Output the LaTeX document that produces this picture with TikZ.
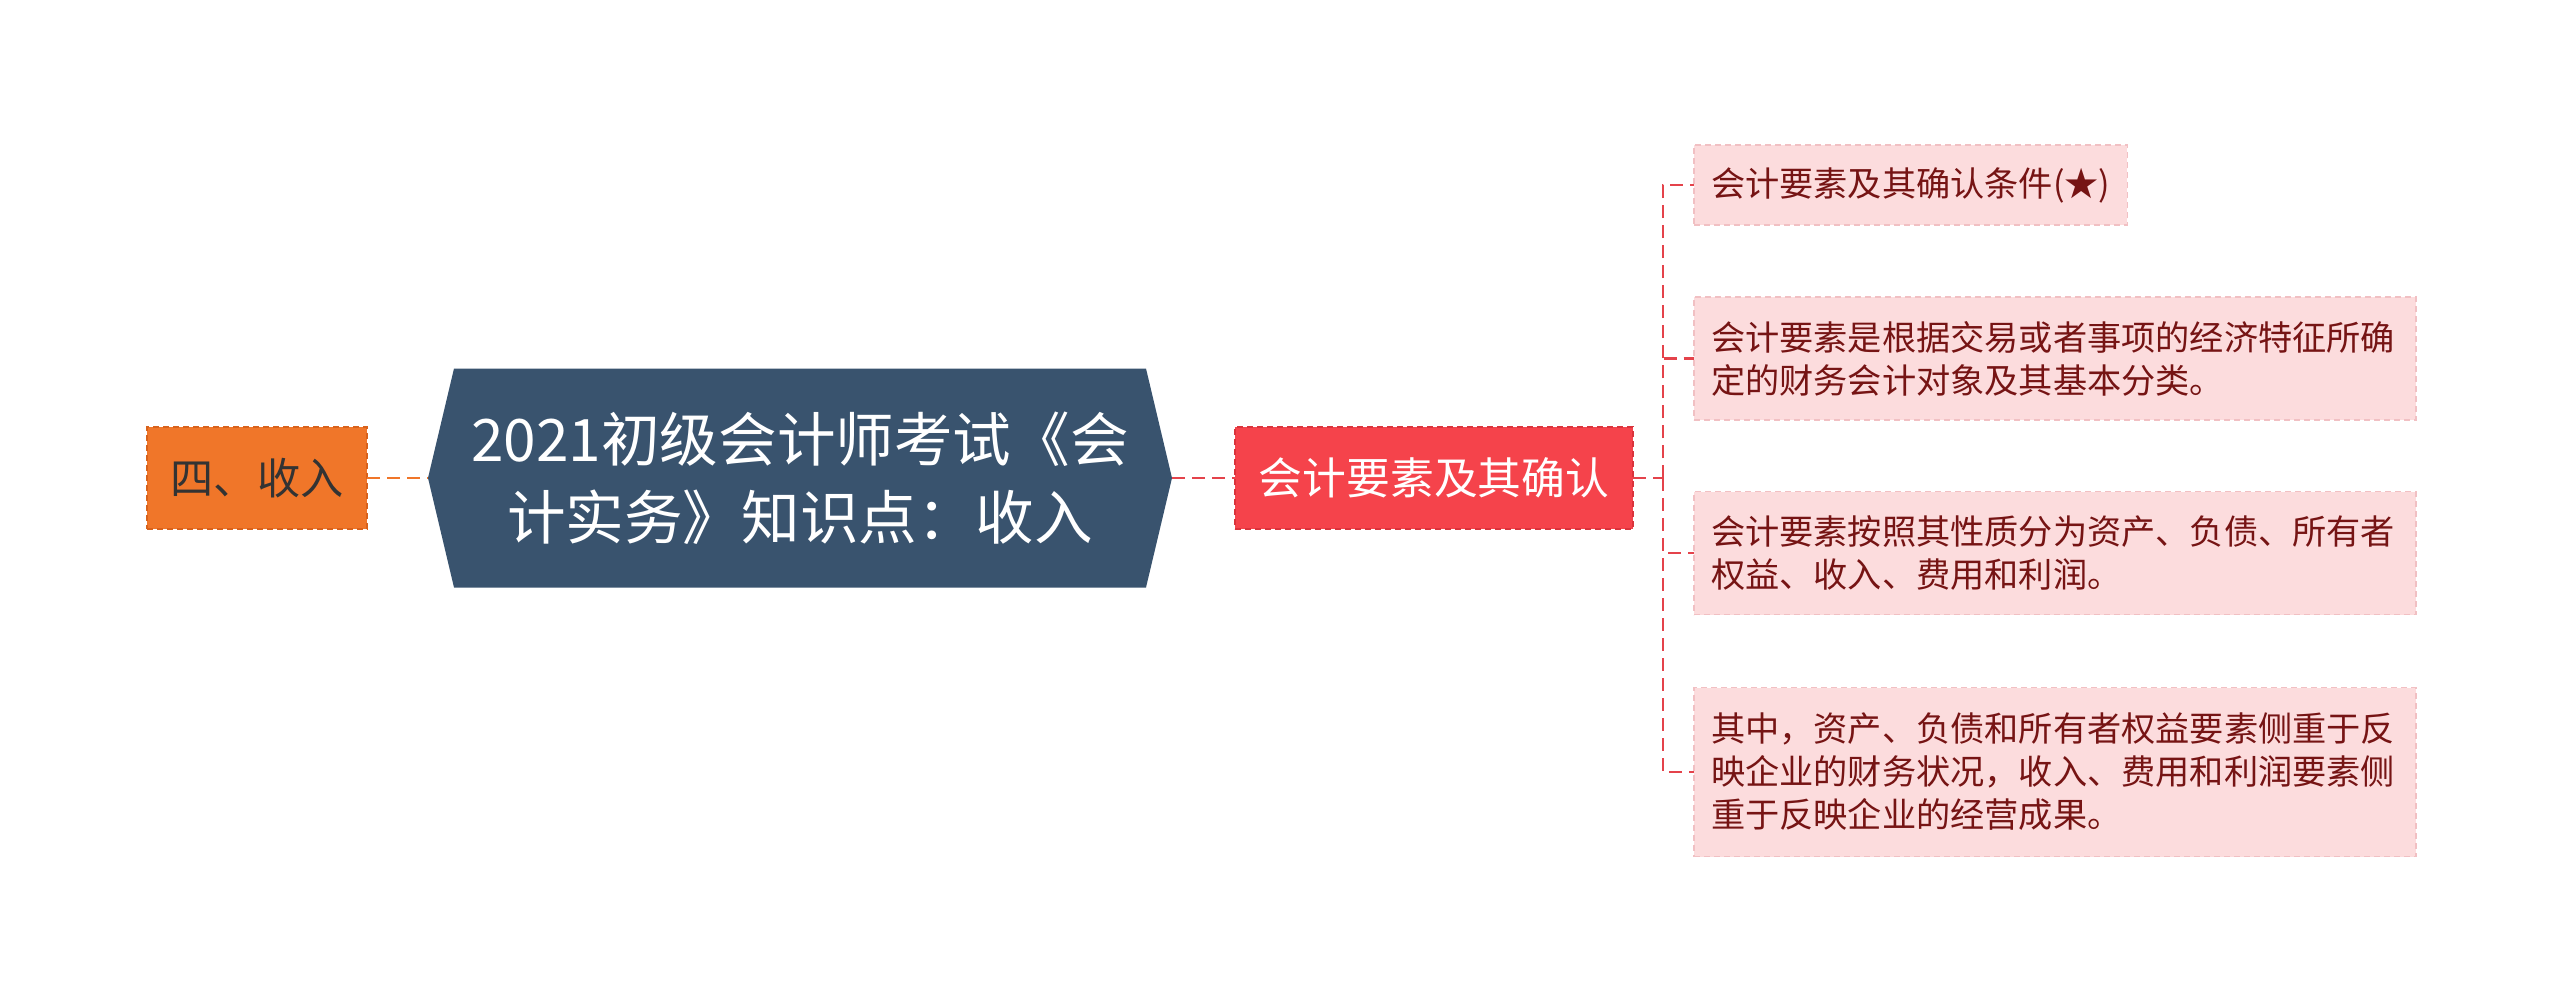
\documentclass[tikz,border=0pt]{standalone}
\usepackage{fontspec}
\setmainfont{Noto Sans CJK SC}
\usepackage{xcolor}
\usetikzlibrary{positioning,calc,backgrounds}

\definecolor{hexblue}{HTML}{39536E}
\definecolor{topicorange}{HTML}{F07629}
\definecolor{topicline}{HTML}{D8621C}
\definecolor{elemred}{HTML}{F5434B}
\definecolor{elemline}{HTML}{DA343C}
\definecolor{leafpink}{HTML}{FCDCDD}
\definecolor{leafline}{HTML}{F1C0C3}
\definecolor{leaftext}{HTML}{761414}
\definecolor{linkred}{HTML}{E4434B}

\begin{document}
\begin{tikzpicture}[
  x=0.5pt, y=-0.5pt,
  every node/.style={inner sep=0pt, outer sep=0pt},
  dashbox/.style={draw, line width=0.8pt, dash pattern=on 3pt off 2pt},
  topicbox/.style={dashbox, fill=topicorange, draw=topicline, text=black!80,
    minimum width=110pt, minimum height=51pt, font=\fontsize{21.6}{26}\selectfont},
  rootbox/.style={text=white, align=center, minimum width=372pt, minimum height=109.5pt,
    font=\fontsize{29.3}{39}\selectfont},
  elembox/.style={dashbox, fill=elemred, draw=elemline, text=white,
    minimum width=199pt, minimum height=51pt, font=\fontsize{21.9}{26}\selectfont},
  leafbox/.style={dashbox, fill=leafpink, draw=leafline, text=leaftext, anchor=west,
    align=left, inner xsep=8.5pt, font=\fontsize{17.1}{21.5}\selectfont},
  link/.style={line width=1.4pt, dash pattern=on 6.5pt off 3.5pt}
]
  \useasboundingbox (0,0) rectangle (2560,1001);

  \node[rootbox] (root) at (800,478) {2021初级会计师考试《会\\计实务》知识点：收入};
  \begin{scope}[on background layer]
    \fill[hexblue] (root.west) -- ($(root.north west)+(26,0)$) -- ($(root.north east)+(-26,0)$)
      -- (root.east) -- ($(root.south east)+(-26,0)$) -- ($(root.south west)+(26,0)$) -- cycle;
  \end{scope}

  \node[topicbox] (topic) at (257,478) {四、收入};
  \node[elembox] (elem) at (1434,478) {会计要素及其确认};

  \node[leafbox, minimum width=214pt, minimum height=40pt] (leaf1) at (1694,185)
    {会计要素及其确认条件(★)};
  \node[leafbox, text width=344pt, minimum height=61.5pt] (leaf2) at (1694,358.5)
    {会计要素是根据交易或者事项的经济特征所确\\定的财务会计对象及其基本分类。};
  \node[leafbox, text width=344pt, minimum height=61.5pt] (leaf3) at (1694,553)
    {会计要素按照其性质分为资产、负债、所有者\\权益、收入、费用和利润。};
  \node[leafbox, text width=344pt, minimum height=84.5pt] (leaf4) at (1694,772)
    {其中，资产、负债和所有者权益要素侧重于反\\映企业的财务状况，收入、费用和利润要素侧\\重于反映企业的经营成果。};

  \coordinate (fork) at (1663,478);

  \draw[link, topicorange] (topic.east) -- (root.west);
  \draw[link, linkred] (root.east) -- (elem.west);
  \draw[link, linkred] (elem.east) -- (fork);
  \foreach \n in {1,...,4}
    \draw[link, linkred] (fork) |- (leaf\n.west);
\end{tikzpicture}
\end{document}
